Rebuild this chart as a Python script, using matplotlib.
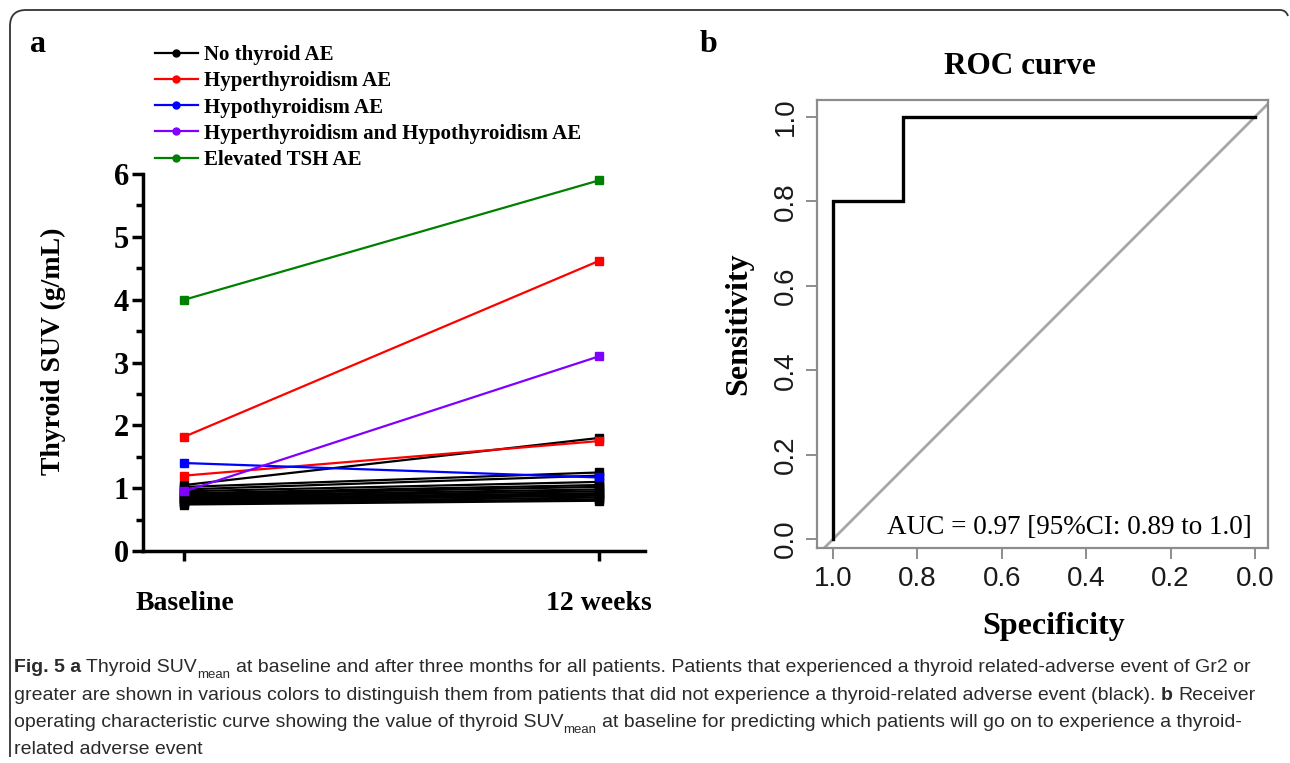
import matplotlib
matplotlib.use("Agg")
import matplotlib.pyplot as plt
from matplotlib.lines import Line2D
from matplotlib.path import Path
from matplotlib.patches import PathPatch

W, H = 1290, 763

# ---- panel a data ----
timepoints = ["Baseline", "12 weeks"]
no_ae_base = [1.05, 1.02, 0.98, 0.95, 0.92, 0.90, 0.88, 0.86, 0.84, 0.82, 0.80, 0.78, 0.76, 0.74]
no_ae_12wk = [1.80, 1.25, 1.20, 1.10, 1.05, 1.02, 0.98, 0.95, 0.92, 0.90, 0.88, 0.85, 0.82, 0.80]
hyper_base = [1.82, 1.20]
hyper_12wk = [4.62, 1.75]
hypo_base = [1.40]
hypo_12wk = [1.17]
both_base = [0.95]
both_12wk = [3.10]
tsh_base = [4.00]
tsh_12wk = [5.90]

groups = [
    ("No thyroid AE", "black", no_ae_base, no_ae_12wk),
    ("Hyperthyroidism AE", "#ff0000", hyper_base, hyper_12wk),
    ("Hypothyroidism AE", "#0000ff", hypo_base, hypo_12wk),
    ("Hyperthyroidism and Hypothyroidism AE", "#8000ff", both_base, both_12wk),
    ("Elevated TSH AE", "#008000", tsh_base, tsh_12wk),
]

# ---- panel b data ----
roc_spec = [1.0, 1.0, 0.833, 0.833, 0.0]
roc_sens = [0.0, 0.8, 0.8, 1.0, 1.0]
roc_ticks = [1.0, 0.8, 0.6, 0.4, 0.2, 0.0]
auc_text = "AUC = 0.97 [95%CI: 0.89 to 1.0]"

serif = ["Liberation Serif", "DejaVu Serif"]
sans = ["Liberation Sans", "DejaVu Sans"]
capfont = ["Liberation Sans", "DejaVu Sans"]

fig = plt.figure(figsize=(W / 100, H / 100), dpi=100)


def fx(px):
    return px / W


def fy(py):
    return 1 - py / H


# ---- panel a ----
ax = fig.add_axes([fx(143), fy(551), fx(645) - fx(143), fy(174) - fy(551)])
for name, color, base, wk in groups:
    for b, w in zip(base, wk):
        ax.plot([0, 1], [b, w], color=color, lw=1.6, marker="s", ms=6,
                solid_capstyle="butt", zorder=3 if color != "black" else 2)
ax.set_xlim(-0.10, 1.11)
ax.set_ylim(0, 6)
ax.spines["top"].set_visible(False)
ax.spines["right"].set_visible(False)
for s in ["left", "bottom"]:
    ax.spines[s].set_linewidth(2.5)
ax.set_yticks(range(7))
ax.set_yticks([0.5, 1.5, 2.5, 3.5, 4.5, 5.5], minor=True)
ax.set_xticks([0, 1])
ax.set_xticklabels(timepoints)
ax.tick_params(axis="y", which="major", length=8, width=2.5, labelsize=22, pad=2)
ax.tick_params(axis="y", which="minor", length=5, width=2.5)
ax.tick_params(axis="x", length=7, width=2.5, labelsize=20, pad=22)
for lab in ax.get_yticklabels() + ax.get_xticklabels():
    lab.set_family(serif)
    lab.set_weight("bold")
# y label placed in figure pixels
fig.text(fx(53), fy(351), "Thyroid SUV (g/mL)", family=serif, weight="bold",
         fontsize=20, rotation=90, ha="center", va="center")

handles = [Line2D([], [], color=c, lw=1.6, marker="o", ms=5) for _, c, _, _ in groups]
fig.legend(handles, [g[0] for g in groups], loc="upper left",
           bbox_to_anchor=(fx(155), fy(45)), frameon=False,
           prop={"family": serif, "weight": "bold", "size": 15},
           handlelength=2.05, handletextpad=0.3, labelspacing=0.3,
           borderpad=0, borderaxespad=0)

# ---- panel b ----
bx = fig.add_axes([fx(817), fy(548), fx(1268) - fx(817), fy(100) - fy(548)])
bx.plot([1.1, -0.1], [-0.1, 1.1], color="#a6a6a6", lw=2)
bx.plot(roc_spec, roc_sens, color="black", lw=2.4, solid_joinstyle="miter")
bx.set_xlim(1.038, -0.031)
bx.set_ylim(-0.021, 1.040)
for s in bx.spines.values():
    s.set_color("#8c8c8c")
    s.set_linewidth(1.6)
bx.set_xticks(roc_ticks)
bx.set_yticks(roc_ticks)
bx.set_xticklabels([f"{v:.1f}" for v in roc_ticks])
bx.set_yticklabels([f"{v:.1f}" for v in roc_ticks], rotation=90, va="center")
bx.tick_params(length=8, width=1.4, color="#8c8c8c", labelsize=20, pad=5)
for lab in bx.get_xticklabels() + bx.get_yticklabels():
    lab.set_family(sans)
    lab.set_color("#1a1a1a")
bx.set_xlabel("Specificity", family=serif, weight="bold", fontsize=23)
bx.xaxis.set_label_coords(0.525, -0.143)
bx.set_ylabel("Sensitivity", family=serif, weight="bold", fontsize=23, labelpad=14)
bx.set_title("ROC curve", family=serif, weight="bold", fontsize=22.5, pad=19, x=0.45)
bx.text(0.007, 0.027, auc_text, family=serif, fontsize=19.5, ha="right", va="center")

# panel letters
fig.text(fx(30), fy(45), "a", family=serif, weight="bold", fontsize=23, va="center")
fig.text(fx(700), fy(45), "b", family=serif, weight="bold", fontsize=23, va="center")

# ---- caption ----
renderer = fig.canvas.get_renderer()
cap_size = 14
cap_color = "#2a2a2a"


def text_w(s, weight="normal", size=cap_size):
    t = fig.text(0, 0, s, family=capfont, fontsize=size, weight=weight)
    w = t.get_window_extent(renderer).width
    t.remove()
    return w


space_w = text_w("a a") - text_w("aa")


def draw_runs(x_px, y_px, runs):
    x = x_px
    for s, kind in runs:
        if kind == "space":
            x += space_w
            continue
        weight = "bold" if kind == "bold" else "normal"
        size = cap_size * 0.68 if kind == "sub" else cap_size
        yy = y_px + (6 if kind == "sub" else 0)
        t = fig.text(fx(x), fy(yy), s, family=capfont, fontsize=size, weight=weight,
                     color=cap_color, va="baseline")
        x += t.get_window_extent(renderer).width


sp = ("", "space")
lines = [
    [("Fig. 5 a", "bold"), sp, ("Thyroid SUV", "normal"), ("mean", "sub"), sp,
     ("at baseline and after three months for all patients. Patients that experienced a thyroid related-adverse event of Gr2 or", "normal")],
    [("greater are shown in various colors to distinguish them from patients that did not experience a thyroid-related adverse event (black).", "normal"),
     sp, ("b", "bold"), sp, ("Receiver", "normal")],
    [("operating characteristic curve showing the value of thyroid SUV", "normal"), ("mean", "sub"), sp,
     ("at baseline for predicting which patients will go on to experience a thyroid-", "normal")],
    [("related adverse event", "normal")],
]
for i, runs in enumerate(lines):
    draw_runs(14, 672 + i * 27.5, runs)

# ---- outer frame ----
r = 16
verts = [(10, 757), (10, 10 + r), (10, 10), (10 + r, 10), (1280, 10), (1286, 10), (1288, 16)]
codes = [Path.MOVETO, Path.LINETO, Path.CURVE3, Path.CURVE3, Path.LINETO, Path.CURVE3, Path.CURVE3]
verts = [(fx(a), fy(b)) for a, b in verts]
fig.add_artist(PathPatch(Path(verts, codes), transform=fig.transFigure, fill=False,
                         lw=1.3, edgecolor="#333333"))

fig.savefig("out.png", dpi=100)
